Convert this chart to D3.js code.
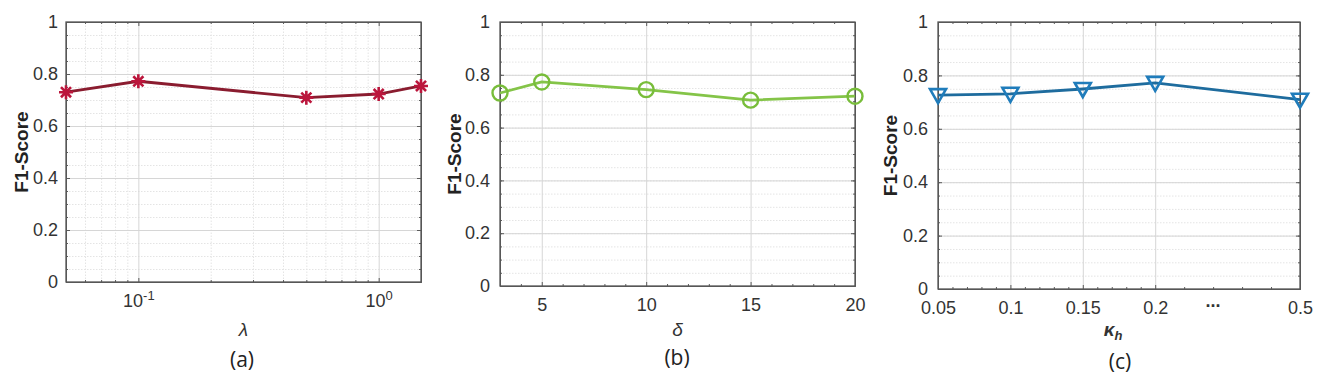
<!DOCTYPE html>
<html>
<head>
<meta charset="utf-8">
<script src="https://cdn.jsdelivr.net/npm/d3@7"></script>
<style>
  body { margin: 0; background: #fff; }
  .tick text { font-family: "Liberation Sans", Arial, sans-serif; font-size: 18px; fill: #333; }
  .frame line, .frame path { stroke: #5c5c5c; }
  .grid line { stroke: #d6d6d6; }
  .grid path, .minor-grid path { display: none; }
  .minor-grid line { stroke: #e4e4e4; stroke-dasharray: 1.5,1.5; }
</style>
</head>
<body>
<div id="main"></div>
<script>
// values
var lambdaVals = [0.05, 0.1, 0.5, 1, 1.5];
var lambdaF1 = [0.730, 0.772, 0.709, 0.723, 0.754];

var deltaVals = [3, 5, 10, 15, 20];
var deltaF1 = [0.731, 0.773, 0.744, 0.704, 0.719];

var kappaVals = [0.05, 0.1, 0.15, 0.2, 0.5];
var kappaF1 = [0.726, 0.731, 0.749, 0.772, 0.709];

var yTicks = [0, 0.2, 0.4, 0.6, 0.8, 1];
var yMinor = d3.range(0, 1.0001, 0.05);
var lambdaTicks = [0.1, 1];
var deltaTicks = [5, 10, 15, 20];
var kappaTicks = [0.05, 0.1, 0.15, 0.2, 0.5];

var svg = d3.select('#main').append('svg')
    .attr('width', 1325)
    .attr('height', 391);

function panel(cfg) {
    var width = cfg.right - cfg.left,
        height = cfg.bottom - cfg.top;

    var g = svg.append('g')
        .attr('transform', 'translate(' + cfg.left + ',' + cfg.top + ')');

    var x = cfg.x.range(cfg.xRange ? cfg.xRange.map(function (f) { return f * width; }) : [0, width]);
    var y = d3.scaleLinear().domain([0, 1]).range([height, 0]);

    // grids
    if (cfg.xMinorGrid) {
        g.append('g').attr('class', 'minor-grid')
            .attr('transform', 'translate(0,' + height + ')')
            .call(d3.axisBottom(x).tickValues(cfg.xMinor).tickSize(-height).tickFormat(''));
    }
    g.append('g').attr('class', 'minor-grid')
        .call(d3.axisLeft(y).tickValues(yMinor).tickSize(-width).tickFormat(''));
    g.append('g').attr('class', 'grid')
        .attr('transform', 'translate(0,' + height + ')')
        .call(d3.axisBottom(x).tickValues(cfg.xTicks).tickSize(-height).tickFormat(''));
    g.append('g').attr('class', 'grid')
        .call(d3.axisLeft(y).tickValues(yTicks).tickSize(-width).tickFormat(''));

    // frame with inward ticks on all four sides
    var xb = g.append('g').attr('class', 'frame')
        .attr('transform', 'translate(0,' + height + ')')
        .call(d3.axisBottom(x).tickValues(cfg.xTicks).tickSizeInner(-4).tickSizeOuter(0).tickPadding(12)
            .tickFormat(function (d) { return d; }));
    g.append('g').attr('class', 'frame')
        .call(d3.axisTop(x).tickValues(cfg.xTicks).tickSizeInner(-4).tickSizeOuter(0).tickFormat(''));
    g.append('g').attr('class', 'frame')
        .attr('transform', 'translate(0,' + height + ')')
        .call(d3.axisBottom(x).tickValues(cfg.xMinor).tickSizeInner(-2).tickSizeOuter(0).tickFormat(''));
    g.append('g').attr('class', 'frame')
        .call(d3.axisTop(x).tickValues(cfg.xMinor).tickSizeInner(-2).tickSizeOuter(0).tickFormat(''));

    g.append('g').attr('class', 'frame')
        .call(d3.axisLeft(y).tickValues(yTicks).tickSizeInner(-4).tickSizeOuter(0).tickPadding(cfg.yPad)
            .tickFormat(function (d) { return d; }));
    g.append('g').attr('class', 'frame')
        .attr('transform', 'translate(' + width + ',0)')
        .call(d3.axisRight(y).tickValues(yTicks).tickSizeInner(-4).tickSizeOuter(0).tickFormat(''));
    g.append('g').attr('class', 'frame')
        .call(d3.axisLeft(y).tickValues(yMinor).tickSizeInner(-2).tickSizeOuter(0).tickFormat(''));
    g.append('g').attr('class', 'frame')
        .attr('transform', 'translate(' + width + ',0)')
        .call(d3.axisRight(y).tickValues(yMinor).tickSizeInner(-2).tickSizeOuter(0).tickFormat(''));

    g.append('rect')
        .attr('width', width)
        .attr('height', height)
        .attr('fill', 'none')
        .attr('stroke', '#555')
        .attr('stroke-width', 1.3);

    if (cfg.logLabels) {
        xb.selectAll('.tick text').each(function (d) {
            var t = d3.select(this).text('10');
            t.append('tspan')
                .attr('dy', '-0.5em')
                .attr('font-size', '13px')
                .text(Math.round(Math.log10(d)) === 0 ? '0' : Math.round(Math.log10(d)));
        });
    }

    if (cfg.extraLabel) {
        g.append('text')
            .attr('x', x(cfg.extraLabel.at))
            .attr('y', height + 18)
            .attr('text-anchor', 'middle')
            .attr('font-family', 'Liberation Sans, Arial, sans-serif')
            .attr('font-size', '18px')
            .attr('font-weight', 'bold')
            .attr('fill', '#333')
            .text(cfg.extraLabel.text);
    }

    // data line
    var pts = cfg.xs.map(function (d, i) { return [x(d), y(cfg.ys[i])]; });
    g.append('path')
        .datum(pts)
        .attr('fill', 'none')
        .attr('stroke', cfg.lineColor)
        .attr('stroke-width', 2.8)
        .attr('d', d3.line());

    var marks = g.selectAll('.mark')
        .data(pts)
        .enter()
        .append('g')
        .attr('class', 'mark')
        .attr('transform', function (d) { return 'translate(' + d[0] + ',' + d[1] + ')'; });

    if (cfg.marker === 'star') {
        var r = 7;
        marks.append('path')
            .attr('d', 'M' + (-r) + ',0H' + r + 'M0,' + (-r) + 'V' + r +
                'M' + (-r * 0.72) + ',' + (-r * 0.72) + 'L' + (r * 0.72) + ',' + (r * 0.72) +
                'M' + (-r * 0.72) + ',' + (r * 0.72) + 'L' + (r * 0.72) + ',' + (-r * 0.72))
            .attr('stroke', cfg.markColor)
            .attr('stroke-width', 2.6)
            .attr('fill', 'none');
    } else if (cfg.marker === 'circle') {
        marks.append('circle')
            .attr('r', 7.5)
            .attr('fill', 'none')
            .attr('stroke', cfg.markColor)
            .attr('stroke-width', 2.4);
    } else {
        marks.append('path')
            .attr('d', 'M-8,-6L8,-6L0,8Z')
            .attr('fill', 'none')
            .attr('stroke', cfg.markColor)
            .attr('stroke-width', 2.6);
    }

    // labels
    svg.append('text')
        .attr('transform', 'translate(' + cfg.yLabelX + ',' + (cfg.top + height / 2) + ') rotate(-90)')
        .attr('text-anchor', 'middle')
        .attr('font-family', 'Liberation Sans, Arial, sans-serif')
        .attr('font-size', '19px')
        .attr('font-weight', 'bold')
        .attr('fill', '#222')
        .text('F1-Score');

    var xl = svg.append('text')
        .attr('x', cfg.left + width / 2 + (cfg.xLabelDx || 0))
        .attr('y', cfg.xLabelY)
        .attr('text-anchor', 'middle')
        .attr('font-family', 'Liberation Sans, Arial, sans-serif')
        .attr('font-size', '19px')
        .attr('font-style', 'italic')
        .attr('font-weight', cfg.xLabelBold ? 'bold' : 'normal')
        .attr('fill', '#333')
        .text(cfg.xLabel);
    if (cfg.xLabelSub) {
        xl.append('tspan')
            .attr('dy', '0.3em')
            .attr('font-size', '13px')
            .text(cfg.xLabelSub);
    }

    svg.append('text')
        .attr('x', cfg.capX)
        .attr('y', cfg.capY)
        .attr('text-anchor', 'middle')
        .attr('font-family', 'Open Sans, sans-serif')
        .attr('font-size', '21px')
        .attr('fill', '#222')
        .text(cfg.caption);
}

var lambdaMinor = [];
[0.01, 0.1, 1].forEach(function (base) {
    d3.range(2, 10).forEach(function (m) {
        var v = base * m;
        if (v > 0.05 && v < 1.5) lambdaMinor.push(v);
    });
});

panel({
    left: 66, right: 421, top: 22, bottom: 282,
    x: d3.scaleLog().domain([0.05, 1.5]),
    xTicks: lambdaTicks, xMinor: lambdaMinor, xMinorGrid: true, logLabels: true,
    xs: lambdaVals, ys: lambdaF1,
    lineColor: '#8a1c2f', markColor: '#bb163c', marker: 'star',
    yPad: 8, yLabelX: 28, xLabel: '\u03bb', xLabelY: 336,
    caption: '(a)', capX: 242, capY: 367
});

panel({
    left: 500, right: 855, top: 22, bottom: 286,
    x: d3.scaleLinear().domain([3, 20]),
    xTicks: deltaTicks, xMinor: d3.range(4, 20).filter(function (d) { return d % 5 !== 0; }),
    xs: deltaVals, ys: deltaF1,
    lineColor: '#84c448', markColor: '#78bd3a', marker: 'circle',
    yPad: 10, yLabelX: 461, xLabel: '\u03b4', xLabelY: 336,
    caption: '(b)', capX: 677, capY: 365
});

var kappaMinor = d3.range(0.06, 0.2, 0.01).filter(function (d) {
    return Math.abs(d * 20 - Math.round(d * 20)) > 1e-6;
}).concat([0.26, 0.32, 0.38, 0.44]);

panel({
    left: 938, right: 1300, top: 22, bottom: 289,
    x: d3.scaleLinear().domain([0.05, 0.2, 0.5]), xRange: [0, 0.6, 1],
    xTicks: kappaTicks, xMinor: kappaMinor,
    extraLabel: { at: 0.32, text: '...' },
    xs: kappaVals, ys: kappaF1,
    lineColor: '#1e6c9e', markColor: '#1f7cbb', marker: 'tri',
    yPad: 10, yLabelX: 897, xLabel: '\u03ba', xLabelSub: 'h', xLabelBold: true,
    xLabelDx: -6, xLabelY: 336,
    caption: '(c)', capX: 1120, capY: 369
});
</script>
</body>
</html>
